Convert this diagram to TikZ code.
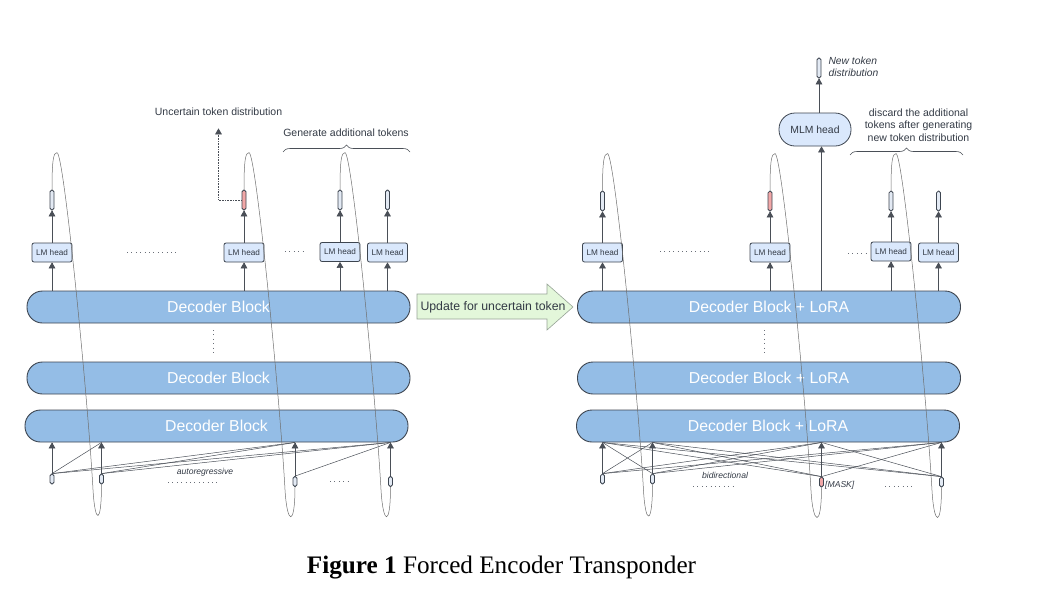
\documentclass[tikz,border=0pt]{standalone}
\usepackage{fontspec}
\setmainfont{Liberation Sans}
\newfontfamily\capfont{Liberation Serif}
\usetikzlibrary{arrows,decorations.pathreplacing}

\definecolor{blockblue}{HTML}{94BDE6}
\definecolor{headblue}{HTML}{DAE8FC}
\definecolor{tokfill}{HTML}{E3EAF4}
\definecolor{tokred}{HTML}{F2A7A7}
\definecolor{edgegray}{HTML}{3D4550}
\definecolor{linegray}{HTML}{4A4F57}
\definecolor{loopgray}{HTML}{6E6E6E}
\definecolor{dotgray}{HTML}{6A6F78}
\definecolor{textgray}{HTML}{333A45}
\definecolor{updgreen}{HTML}{E3F7DA}
\definecolor{updedge}{HTML}{97A397}

\begin{document}
\begin{tikzpicture}[x=1pt,y=1pt,>=triangle 60,
    block/.style={draw=edgegray,line width=0.9pt,fill=blockblue,rounded corners=15.5pt,
      minimum width=383pt,minimum height=32pt,inner sep=0pt,text=white,
      font=\fontsize{15.8}{18}\selectfont},
    lmhead/.style={draw=edgegray,line width=0.8pt,fill=headblue,rounded corners=2pt,
      minimum width=40pt,minimum height=19pt,inner sep=0pt,text=textgray,
      font=\fontsize{8.2}{10}\selectfont},
    mlmhead/.style={lmhead,rounded corners=16pt,minimum width=72pt,minimum height=33pt,
      font=\fontsize{10.4}{12}\selectfont},
    tok/.style={draw=edgegray,line width=0.8pt,fill=tokfill,rounded corners=1.8pt,
      minimum width=4pt,minimum height=20pt,inner sep=0pt},
    intok/.style={tok,minimum height=10pt},
    hot/.style={fill=tokred},
    arr/.style={->,draw=linegray,line width=0.6pt},
    link/.style={draw=linegray,line width=0.5pt},
    loopline/.style={draw=loopgray,line width=0.5pt},
    dotline/.style={draw=dotgray,line width=0.9pt,dash pattern=on 0.9pt off 3.5pt},
    curly/.style={decorate,decoration={brace,amplitude=7pt},draw=linegray,line width=0.6pt},
    updarrow/.style={draw=updedge,line width=0.6pt,fill=updgreen},
    lbl/.style={text=textgray,font=\fontsize{10.5}{12.7}\selectfont},
    note/.style={text=textgray,inner sep=1pt,font=\itshape\fontsize{8.6}{10}\selectfont}]

\useasboundingbox (0,0) rectangle (1062,-600);

% left: autoregressive decoder
\node[block] (ltop) at (218.5,-307) {Decoder Block};
\node[block] (lmid) at (218.5,-378) {Decoder Block};
\node[block] (lbot) at (216.5,-426) {Decoder Block};

\node[lmhead] (lh1) at (52,-252.5) {LM head};
\node[lmhead] (lh2) at (244,-252.5) {LM head};
\node[lmhead] (lh3) at (340,-252) {LM head};
\node[lmhead] (lh4) at (387.5,-252.5) {LM head};

\node[tok] (lo1) at (52,-200) {};
\node[tok,hot] (lo2) at (244,-200) {};
\node[tok] (lo3) at (340,-200) {};
\node[tok] (lo4) at (387.5,-200) {};

\node[intok] (li1) at (52,-479) {};
\node[intok] (li2) at (101.5,-479) {};
\node[intok] (li3) at (295,-481.5) {};
\node[intok] (li4) at (390.5,-481.5) {};

\foreach \k in {1,...,4} {
  \draw[arr] (ltop.north -| lh\k) -- (lh\k);
  \draw[arr] (lh\k) -- (lo\k);
  \draw[arr] (li\k) -- (li\k |- lbot.south);
}
\foreach \i/\j in {1/2,1/3,1/4,2/3,2/4,3/4}
  \draw[link] (li\i.north) -- (li\j |- lbot.south);

\node[note] (autoreg) at (205,-472) {autoregressive};
\node[lbl] (unc) at (218.5,-112) {Uncertain token distribution};
\draw[arr,densely dotted] (lo2.west) -| ([yshift=-9pt]unc.south);
\draw[curly] (283,-152) -- (410,-152);
\node[lbl] (gen) at (346,-133) {Generate additional tokens};

\draw[dotline] (127,-252.5) -- (176,-252.5);
\draw[dotline] (285,-251) -- (303,-251);
\draw[dotline] (168,-482) -- (218,-482);
\draw[dotline] (330,-481) -- (351,-481);
\draw[dotline] (213,-330) -- (213,-356);

% middle arrow
\draw[updarrow] (417,-294) -- (547,-294) -- (547,-284) -- (573,-307)
  -- (547,-330) -- (547,-319) -- (417,-319) -- cycle;
\node[text=textgray,font=\fontsize{12.3}{14}\selectfont] (upd) at (493,-307) {Update for uncertain token};

% right: bidirectional decoder with LoRA
\node[block] (rtop) at (769,-307) {Decoder Block + LoRA};
\node[block] (rmid) at (769,-378) {Decoder Block + LoRA};
\node[block] (rbot) at (768,-426) {Decoder Block + LoRA};

\node[lmhead] (rh1) at (602.5,-252.5) {LM head};
\node[lmhead] (rh2) at (770,-252.5) {LM head};
\node[lmhead] (rh3) at (891,-251.5) {LM head};
\node[lmhead] (rh4) at (938.5,-252.5) {LM head};

\node[tok] (ro1) at (602.5,-201) {};
\node[tok,hot] (ro2) at (770,-201) {};
\node[tok] (ro3) at (891,-201) {};
\node[tok] (ro4) at (938.5,-201) {};

\node[intok] (ri1) at (602.5,-479) {};
\node[intok] (ri2) at (652.5,-479) {};
\node[intok,hot] (ri3) at (821.5,-482) {};
\node[intok] (ri4) at (941.5,-482) {};

\foreach \k in {1,...,4} {
  \draw[arr] (rtop.north -| rh\k) -- (rh\k);
  \draw[arr] (rh\k) -- (ro\k);
  \draw[arr] (ri\k) -- (ri\k |- rbot.south);
}
\foreach \i in {1,...,4}
  \foreach \j in {1,...,4}
    {\ifnum\i=\j\relax\else\draw[link] (ri\i.north) -- (ri\j |- rbot.south);\fi}

\node[mlmhead] (mlm) at (815,-129.5) {MLM head};
\node[tok] (newtok) at (819,-68) {};
\draw[arr] (ri3 |- rtop.north) -- (ri3 |- mlm.south);
\draw[arr] (newtok |- mlm.north) -- (newtok);
\node[lbl,anchor=west,align=left,font=\itshape\fontsize{10.3}{12.5}\selectfont] (newlbl) at (825,-67) {New token\\distribution};
\node[lbl,align=center] (disc) at (918.5,-125) {discard the additional\\tokens after generating\\new token distribution};
\draw[curly] (850,-155) -- (963,-155);

\node[note] (bidir) at (725,-475) {bidirectional};
\node[note,anchor=west] (mask) at (824,-485) {[MASK]};

\draw[dotline] (660,-251) -- (709,-251);
\draw[dotline] (848,-253) -- (866,-253);
\draw[dotline] (693,-486) -- (734,-486);
\draw[dotline] (885,-486) -- (914,-486);
\draw[dotline] (764,-330) -- (764,-356);

% loops: output token fed back as next input
\foreach \a/\b in {lo1/li2,lo2/li3,lo3/li4,ro1/ri2,ro2/ri3,ro3/ri4}
  \draw[loopline] (\a.north) .. controls +(0,30) and +(-3.5,0) .. ++(5,37)
    .. controls +(7,0) and +(-5,90) .. ++(36,-337)
    .. controls +(2,-35) and +(0,-41) .. (\b.south);

\node[font=\capfont\fontsize{25.2}{30}\selectfont] (cap) at (501.5,-568) {\textbf{Figure 1} Forced Encoder Transponder};
\end{tikzpicture}
\end{document}
